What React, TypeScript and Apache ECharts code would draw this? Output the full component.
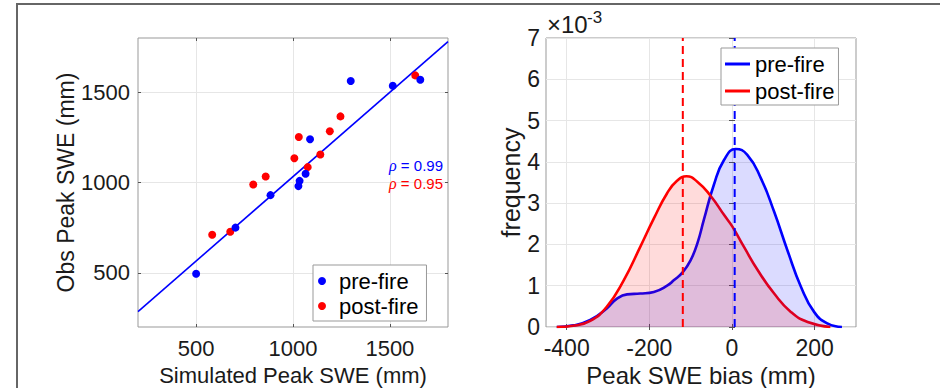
import React, { useEffect, useRef } from "react";
import * as echarts from "echarts";

// ---- Left panel: scatter of simulated vs observed peak SWE (mm)
const preSim = [500, 703, 884, 1028, 1034, 1065, 1088, 1298, 1515, 1657];
const preObs = [495, 750, 930, 980, 1009, 1048, 1239, 1562, 1536, 1569];
const postSim = [583, 676, 795, 859, 1007, 1030, 1076, 1141, 1190, 1245, 1631];
const postObs = [711, 727, 989, 1033, 1134, 1252, 1085, 1155, 1284, 1366, 1593];
const fitLineX = [200, 1800];
const fitLineY = [285, 1780];
const sweTicks = [500, 1000, 1500];
const rhoPre = "0.99";
const rhoPost = "0.95";

// ---- Right panel: density of peak SWE bias (frequency in units of 1e-3)
const preBias = [-424, -384, -343, -303, -279, -254, -222, -189, -157, -141, -119, -100, -84, -68, -44, -19, 9, 37, 70, 102, 134, 167, 199, 232, 266];
const preDensity = [0, 0.04, 0.17, 0.45, 0.68, 0.79, 0.81, 0.85, 1.0, 1.13, 1.33, 1.62, 2.02, 2.6, 3.44, 4.05, 4.31, 4.17, 3.6, 2.79, 1.86, 0.97, 0.36, 0.08, 0];
const postBias = [-424, -384, -343, -303, -262, -222, -189, -157, -133, -110, -84, -52, -19, 1, 29, 62, 102, 143, 183, 238];
const postDensity = [0, 0.03, 0.15, 0.49, 1.13, 1.94, 2.63, 3.24, 3.54, 3.65, 3.52, 3.18, 2.71, 2.43, 1.94, 1.38, 0.81, 0.36, 0.12, 0];
const preMeanBias = 6.5;
const postMeanBias = -119;
const biasTicks = [-400, -200, 0, 200];
const freqRange = [0, 7];

const FONT = "Liberation Sans";
const BLUE = "#0000ff";
const RED = "#ff0000";

function zip(xs: number[], ys: number[]) {
  return xs.map((x, i) => [x, ys[i]]);
}

export default function App() {
  const ref = useRef<HTMLDivElement>(null);
  useEffect(() => {
    const chart = echarts.init(ref.current!, null, { renderer: "svg" });
    const tickStyle = { inside: true, length: 3, lineStyle: { color: "#555", width: 1 } };
    const grid = { show: true, borderColor: "#999", borderWidth: 1, backgroundColor: "#fff", outerBoundsMode: "none", containLabel: false };
    const splitLine = { show: true, lineStyle: { color: "#e6e6e6", width: 1 } };
    const label = (size: number, margin: number, vals?: number[]) => ({
      show: true,
      fontFamily: FONT,
      fontSize: size,
      color: "#1a1a1a",
      margin,
      formatter: (v: number) => String(v),
      ...(vals ? { customValues: vals } : {}),
    });
    const nameStyle = (size: number) => ({ fontFamily: FONT, fontSize: size, color: "#1a1a1a" });
    const hidden = (vals: number[] | undefined, min: number, max: number, gridIndex: number, position: string, interval?: number) => ({
      type: "value",
      gridIndex,
      position,
      min,
      max,
      ...(interval ? { interval } : {}),
      axisLine: { show: false },
      axisLabel: { show: false, ...(vals ? { customValues: vals } : {}) },
      axisTick: { ...tickStyle, ...(vals ? { customValues: vals } : {}) },
      splitLine: { show: false },
    });
    const smooth = 0.5;
    const legendBase = {
      orient: "vertical",
      z: 20,
      borderColor: "#999", borderWidth: 1, backgroundColor: "#fff", borderRadius: 0,
      textStyle: { fontFamily: FONT, fontSize: 22, color: "#000", lineHeight: 20, padding: 0 },
      selectedMode: false,
    };

    const option: any = {
      animation: false,
      grid: [
        { ...grid, left: 138, top: 38, width: 310, height: 289 },
        { ...grid, left: 546, top: 38, width: 310, height: 289 },
      ],
      xAxis: [
        {
          type: "value", gridIndex: 0, position: "bottom", min: 200, max: 1800,
          axisLine: { show: false },
          axisTick: { ...tickStyle, customValues: sweTicks },
          axisLabel: label(22, 10, sweTicks),
          splitLine,
          name: "Simulated Peak SWE (mm)", nameLocation: "middle", nameGap: 37, nameTextStyle: nameStyle(22),
        },
        hidden(sweTicks, 200, 1800, 0, "top"),
        {
          type: "value", gridIndex: 1, position: "bottom", min: -450, max: 300,
          axisLine: { show: false },
          axisTick: { ...tickStyle, customValues: biasTicks },
          axisLabel: label(23, 9, biasTicks),
          splitLine,
          name: "Peak SWE bias (mm)", nameLocation: "middle", nameGap: 36, nameTextStyle: nameStyle(24),
        },
        hidden(biasTicks, -450, 300, 1, "top"),
      ],
      yAxis: [
        {
          type: "value", gridIndex: 0, position: "left", min: 200, max: 1800,
          axisLine: { show: false },
          axisTick: { ...tickStyle, customValues: sweTicks },
          axisLabel: label(22, 8, sweTicks),
          splitLine,
          name: "Obs Peak SWE (mm)", nameLocation: "middle", nameGap: 54, nameTextStyle: nameStyle(23),
        },
        hidden(sweTicks, 200, 1800, 0, "right"),
        {
          type: "value", gridIndex: 1, position: "left", min: freqRange[0], max: freqRange[1], interval: 1,
          axisLine: { show: false },
          axisTick: tickStyle,
          axisLabel: label(23, 6),
          splitLine,
          name: "frequency", nameLocation: "middle", nameGap: 22, nameTextStyle: nameStyle(25),
        },
        hidden(undefined, freqRange[0], freqRange[1], 1, "right", 1),
      ],
      legend: [
        {
          ...legendBase,
          left: 313, top: 265,
          data: [{ name: "pre-fire", icon: "circle" }, { name: "post-fire", icon: "circle" }],
          itemWidth: 24, itemHeight: 8, itemGap: 3,
          padding: [5, 8, 4, 5],
        },
        {
          ...legendBase,
          left: 721, top: 48,
          data: [{ name: "pre-fire", icon: "rect" }, { name: "post-fire", icon: "rect" }],
          itemWidth: 25, itemHeight: 3, itemGap: 5,
          padding: [5, 4, 3, 4],
        },
      ],
      series: [
        {
          name: "pre-fire", type: "scatter", xAxisIndex: 0, yAxisIndex: 0, z: 4,
          data: zip(preSim, preObs), symbolSize: 8, itemStyle: { color: BLUE, opacity: 1 },
        },
        {
          name: "post-fire", type: "scatter", xAxisIndex: 0, yAxisIndex: 0, z: 3,
          data: zip(postSim, postObs), symbolSize: 8, itemStyle: { color: RED, opacity: 1 },
        },
        {
          type: "line", xAxisIndex: 0, yAxisIndex: 0, z: 2,
          data: zip(fitLineX, fitLineY), showSymbol: false, symbol: "none",
          lineStyle: { color: BLUE, width: 1.6 },
        },
        {
          name: "pre-fire", type: "line", xAxisIndex: 2, yAxisIndex: 2, z: 2,
          data: zip(preBias, preDensity), smooth, symbol: "none",
          lineStyle: { color: BLUE, width: 2.6 }, itemStyle: { color: BLUE },
        },
        {
          name: "post-fire", type: "line", xAxisIndex: 2, yAxisIndex: 2, z: 2,
          data: zip(postBias, postDensity), smooth, symbol: "none",
          lineStyle: { color: RED, width: 2.6 }, itemStyle: { color: RED },
        },
        {
          type: "line", xAxisIndex: 2, yAxisIndex: 2, z: 3,
          data: zip(preBias, preDensity), smooth, symbol: "none",
          lineStyle: { width: 0, color: BLUE }, areaStyle: { color: "rgba(0,0,255,0.2)" },
        },
        {
          type: "line", xAxisIndex: 2, yAxisIndex: 2, z: 3,
          data: zip(postBias, postDensity), smooth, symbol: "none",
          lineStyle: { width: 0, color: RED }, areaStyle: { color: "rgba(255,0,0,0.2)" },
        },
        {
          type: "line", xAxisIndex: 2, yAxisIndex: 2, z: 5,
          data: [[postMeanBias, freqRange[0]], [postMeanBias, freqRange[1]]], symbol: "none",
          lineStyle: { color: RED, width: 2, type: [8, 5] },
        },
        {
          type: "line", xAxisIndex: 2, yAxisIndex: 2, z: 5,
          data: [[preMeanBias, freqRange[0]], [preMeanBias, freqRange[1]]], symbol: "none",
          lineStyle: { color: BLUE, width: 2, type: [8, 5] },
        },
      ],
      graphic: [
        {
          type: "rect", silent: true, z: 100,
          shape: { x: 17, y: 4, width: 1000, height: 600 },
          style: { fill: "none", stroke: "#666", lineWidth: 2 },
        },
        {
          type: "text", x: 443, y: 165, silent: true, z: 100,
          style: {
            text: "{r|ρ} = " + rhoPre, align: "right", verticalAlign: "middle",
            fontFamily: FONT, fontSize: 15, fill: BLUE,
            rich: { r: { fontFamily: "Liberation Serif", fontStyle: "italic", fontSize: 16, fill: BLUE } },
          },
        },
        {
          type: "text", x: 443, y: 183, silent: true, z: 100,
          style: {
            text: "{r|ρ} = " + rhoPost, align: "right", verticalAlign: "middle",
            fontFamily: FONT, fontSize: 15, fill: RED,
            rich: { r: { fontFamily: "Liberation Serif", fontStyle: "italic", fontSize: 16, fill: RED } },
          },
        },
        {
          type: "text", x: 547, y: 36, silent: true, z: 100,
          style: { text: "×10", align: "left", verticalAlign: "bottom", fontFamily: FONT, fontSize: 24, fill: "#1a1a1a" },
        },
        {
          type: "text", x: 587, y: 9, silent: true, z: 100,
          style: { text: "-3", align: "left", verticalAlign: "top", fontFamily: FONT, fontSize: 17, fill: "#1a1a1a" },
        },
      ],
    };
    chart.setOption(option);
    return () => chart.dispose();
  }, []);
  return (
    <div
      ref={ref}
      style={{ position: "absolute", left: 0, top: 0, width: 940, height: 388, background: "#fff" }}
    />
  );
}
